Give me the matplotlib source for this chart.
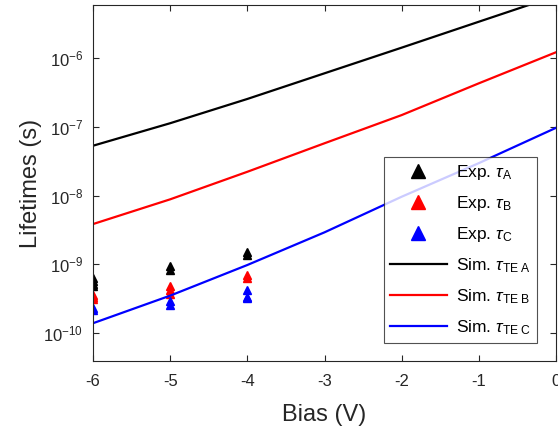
import numpy as np
import matplotlib
matplotlib.use('Agg')
import matplotlib.pyplot as plt

plt.rcParams['font.family'] = ['Liberation Sans', 'DejaVu Sans']
plt.rcParams['mathtext.fontset'] = 'custom'
plt.rcParams['mathtext.rm'] = 'Liberation Sans'
plt.rcParams['mathtext.it'] = 'Liberation Sans:italic'
plt.rcParams['axes.unicode_minus'] = False

# simulated lifetimes (s) vs bias (V)
bias_sim = [-6, -5, -4, -3, -2, -1, 0]
sim_A = [5.28e-8, 1.12e-7, 2.52e-7, 5.94e-7, 1.40e-6, 3.33e-6, 7.9e-6]
sim_B = [3.85e-9, 8.8e-9, 2.21e-8, 5.73e-8, 1.47e-7, 4.25e-7, 1.20e-6]
sim_C = [1.40e-10, 3.52e-10, 9.8e-10, 2.92e-9, 9.6e-9, 2.95e-8, 9.6e-8]

# experimental lifetimes (s)
exp_A_bias = [-6, -6, -6, -6, -5, -5, -4, -4]
exp_A = [6.35e-10, 5.7e-10, 5.2e-10, 4.9e-10, 9.6e-10, 8.3e-10, 1.53e-9, 1.37e-9]
exp_B_bias = [-6, -6, -6, -5, -5, -5, -4, -4]
exp_B = [3.6e-10, 3.37e-10, 3.15e-10, 4.86e-10, 4.26e-10, 3.7e-10, 7.0e-10, 6.3e-10]
exp_C_bias = [-6, -6, -5, -5, -4, -4, -4]
exp_C = [2.2e-10, 2.3e-10, 2.9e-10, 2.6e-10, 4.25e-10, 3.4e-10, 3.2e-10]

axcol = '#262626'

fig = plt.figure(figsize=(5.58, 4.29), dpi=100)
ax = fig.add_axes([0.1667, 0.1585, 0.8297, 0.8298])

ms = 6
ax.plot(exp_A_bias, exp_A, '^', color='k', ms=ms, mec='k', label=r'Exp. $\tau_{\mathrm{A}}$')
ax.plot(exp_B_bias, exp_B, '^', color='r', ms=ms, mec='r', label=r'Exp. $\tau_{\mathrm{B}}$')
ax.plot(exp_C_bias, exp_C, '^', color='b', ms=ms, mec='b', label=r'Exp. $\tau_{\mathrm{C}}$')
ax.plot(bias_sim, sim_A, '-', color='k', lw=1.6, label=r'Sim. $\tau_{\mathrm{TE\ A}}$')
ax.plot(bias_sim, sim_B, '-', color='r', lw=1.6, label=r'Sim. $\tau_{\mathrm{TE\ B}}$')
ax.plot(bias_sim, sim_C, '-', color='b', lw=1.6, label=r'Sim. $\tau_{\mathrm{TE\ C}}$')

ax.set_yscale('log')
ax.set_xlim(-6, 0)
ax.set_ylim(3.96e-11, 5.82e-6)
ax.set_yticks([1e-10, 1e-9, 1e-8, 1e-7, 1e-6])
ax.yaxis.set_minor_locator(matplotlib.ticker.NullLocator())
ax.set_xticks([-6, -5, -4, -3, -2, -1, 0])

ax.tick_params(direction='in', top=True, right=True, length=4, width=0.8,
               colors=axcol, labelsize=12)
ax.tick_params(axis='x', pad=9)
ax.tick_params(axis='y', pad=7)
for s in ax.spines.values():
    s.set_color(axcol)
    s.set_linewidth(0.8)

ax.set_xlabel('Bias (V)', fontsize=17, color=axcol, labelpad=11)
ax.set_ylabel('Lifetimes (s)', fontsize=17, color=axcol, labelpad=1)

leg = ax.legend(loc='lower right', bbox_to_anchor=(0.959, 0.0506), borderaxespad=0,
                fontsize=12.5, frameon=True, fancybox=False, edgecolor=axcol,
                handlelength=3.3, handletextpad=0.5, markerscale=1.6,
                labelspacing=0.7, borderpad=0.35)
leg.get_frame().set_linewidth(0.8)

fig.savefig('out.png', dpi=100)
